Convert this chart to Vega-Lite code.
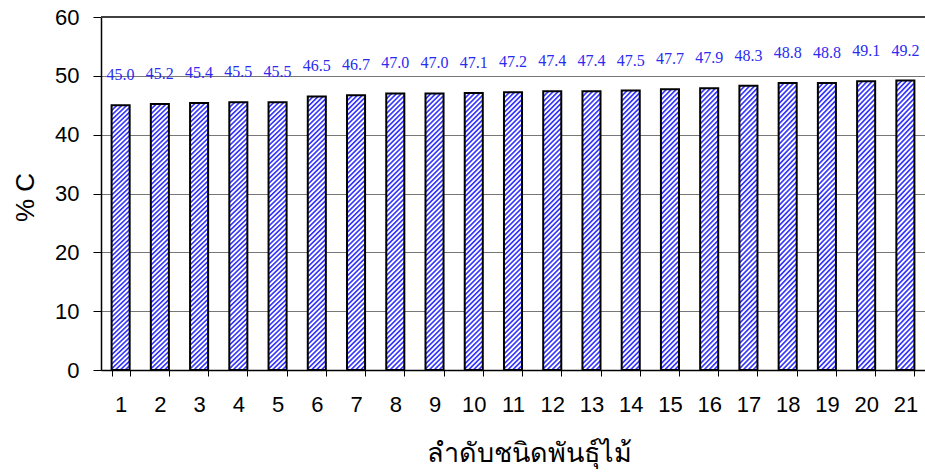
{
  "$schema": "https://vega.github.io/schema/vega-lite/v6.json",
  "width": 824,
  "height": 353,
  "autosize": "none",
  "padding": {"left": 101, "top": 17, "right": 0, "bottom": 105},
  "background": "white",
  "config": {
    "view": {"stroke": null},
    "axis": {"labelFont": "Liberation Sans", "titleFont": "Liberation Sans", "labelColor": "black", "titleColor": "black"}
  },
  "data": {
    "values": [
      {"species": "1", "carbon": 45.0},
      {"species": "2", "carbon": 45.2},
      {"species": "3", "carbon": 45.4},
      {"species": "4", "carbon": 45.5},
      {"species": "5", "carbon": 45.5},
      {"species": "6", "carbon": 46.5},
      {"species": "7", "carbon": 46.7},
      {"species": "8", "carbon": 47.0},
      {"species": "9", "carbon": 47.0},
      {"species": "10", "carbon": 47.1},
      {"species": "11", "carbon": 47.2},
      {"species": "12", "carbon": 47.4},
      {"species": "13", "carbon": 47.4},
      {"species": "14", "carbon": 47.5},
      {"species": "15", "carbon": 47.7},
      {"species": "16", "carbon": 47.9},
      {"species": "17", "carbon": 48.3},
      {"species": "18", "carbon": 48.8},
      {"species": "19", "carbon": 48.8},
      {"species": "20", "carbon": 49.1},
      {"species": "21", "carbon": 49.2}
    ]
  },
  "encoding": {
    "x": {
      "field": "species",
      "type": "ordinal",
      "sort": null,
      "scale": {"paddingInner": 0.54, "paddingOuter": 0.27},
      "axis": {
        "title": "ลำดับชนิดพันธุ์ไม้",
        "titleFontSize": 27,
        "titleFontWeight": "normal",
        "titleX": 428,
        "titleY": 83,
        "titleBaseline": "middle",
        "labelAngle": 0,
        "labelFontSize": 22,
        "labelPadding": 18,
        "tickBand": "extent",
        "tickSize": 6,
        "tickColor": "black",
        "domainColor": "black",
        "domainWidth": 1.5,
        "grid": false
      }
    },
    "y": {
      "field": "carbon",
      "type": "quantitative",
      "scale": {"domain": [0, 60], "nice": false},
      "axis": {
        "title": "% C",
        "titleFontSize": 26,
        "titleFontWeight": "normal",
        "titleX": -76,
        "titleY": 180,
        "titleAngle": -90,
        "titleBaseline": "middle",
        "titleAlign": "center",
        "values": [0, 10, 20, 30, 40, 50, 60],
        "labelFontSize": 22,
        "labelPadding": 14,
        "tickSize": 8,
        "tickColor": "black",
        "domainColor": "black",
        "domainWidth": 1.5,
        "grid": true,
        "gridColor": "#777777",
        "gridWidth": 1
      }
    }
  },
  "layer": [
    {
      "mark": {"type": "rule", "color": "#404040", "strokeWidth": 2},
      "encoding": {"y": {"datum": 60}, "x": {"value": 0}, "x2": {"value": 824}}
    },
    {
      "mark": {
        "type": "bar",
        "stroke": "black",
        "strokeWidth": 2,
        "fill": {
          "gradient": "linear",
          "x1": 0, "y1": 0, "x2": 0.069, "y2": 1.06,
          "stops": [
            {"offset": 0, "color": "#3a3aff"}, {"offset": 0.004, "color": "#3a3aff"}, {"offset": 0.008, "color": "#ffffff"}, {"offset": 0.0125, "color": "#ffffff"},
            {"offset": 0.0167, "color": "#3a3aff"}, {"offset": 0.0207, "color": "#3a3aff"}, {"offset": 0.0247, "color": "#ffffff"}, {"offset": 0.0292, "color": "#ffffff"},
            {"offset": 0.0333, "color": "#3a3aff"}, {"offset": 0.0373, "color": "#3a3aff"}, {"offset": 0.0413, "color": "#ffffff"}, {"offset": 0.0458, "color": "#ffffff"},
            {"offset": 0.05, "color": "#3a3aff"}, {"offset": 0.054, "color": "#3a3aff"}, {"offset": 0.058, "color": "#ffffff"}, {"offset": 0.0625, "color": "#ffffff"},
            {"offset": 0.0667, "color": "#3a3aff"}, {"offset": 0.0707, "color": "#3a3aff"}, {"offset": 0.0747, "color": "#ffffff"}, {"offset": 0.0792, "color": "#ffffff"},
            {"offset": 0.0833, "color": "#3a3aff"}, {"offset": 0.0873, "color": "#3a3aff"}, {"offset": 0.0913, "color": "#ffffff"}, {"offset": 0.0958, "color": "#ffffff"},
            {"offset": 0.1, "color": "#3a3aff"}, {"offset": 0.104, "color": "#3a3aff"}, {"offset": 0.108, "color": "#ffffff"}, {"offset": 0.1125, "color": "#ffffff"},
            {"offset": 0.1167, "color": "#3a3aff"}, {"offset": 0.1207, "color": "#3a3aff"}, {"offset": 0.1247, "color": "#ffffff"}, {"offset": 0.1292, "color": "#ffffff"},
            {"offset": 0.1333, "color": "#3a3aff"}, {"offset": 0.1373, "color": "#3a3aff"}, {"offset": 0.1413, "color": "#ffffff"}, {"offset": 0.1458, "color": "#ffffff"},
            {"offset": 0.15, "color": "#3a3aff"}, {"offset": 0.154, "color": "#3a3aff"}, {"offset": 0.158, "color": "#ffffff"}, {"offset": 0.1625, "color": "#ffffff"},
            {"offset": 0.1667, "color": "#3a3aff"}, {"offset": 0.1707, "color": "#3a3aff"}, {"offset": 0.1747, "color": "#ffffff"}, {"offset": 0.1792, "color": "#ffffff"},
            {"offset": 0.1833, "color": "#3a3aff"}, {"offset": 0.1873, "color": "#3a3aff"}, {"offset": 0.1913, "color": "#ffffff"}, {"offset": 0.1958, "color": "#ffffff"},
            {"offset": 0.2, "color": "#3a3aff"}, {"offset": 0.204, "color": "#3a3aff"}, {"offset": 0.208, "color": "#ffffff"}, {"offset": 0.2125, "color": "#ffffff"},
            {"offset": 0.2167, "color": "#3a3aff"}, {"offset": 0.2207, "color": "#3a3aff"}, {"offset": 0.2247, "color": "#ffffff"}, {"offset": 0.2292, "color": "#ffffff"},
            {"offset": 0.2333, "color": "#3a3aff"}, {"offset": 0.2373, "color": "#3a3aff"}, {"offset": 0.2413, "color": "#ffffff"}, {"offset": 0.2458, "color": "#ffffff"},
            {"offset": 0.25, "color": "#3a3aff"}, {"offset": 0.254, "color": "#3a3aff"}, {"offset": 0.258, "color": "#ffffff"}, {"offset": 0.2625, "color": "#ffffff"},
            {"offset": 0.2667, "color": "#3a3aff"}, {"offset": 0.2707, "color": "#3a3aff"}, {"offset": 0.2747, "color": "#ffffff"}, {"offset": 0.2792, "color": "#ffffff"},
            {"offset": 0.2833, "color": "#3a3aff"}, {"offset": 0.2873, "color": "#3a3aff"}, {"offset": 0.2913, "color": "#ffffff"}, {"offset": 0.2958, "color": "#ffffff"},
            {"offset": 0.3, "color": "#3a3aff"}, {"offset": 0.304, "color": "#3a3aff"}, {"offset": 0.308, "color": "#ffffff"}, {"offset": 0.3125, "color": "#ffffff"},
            {"offset": 0.3167, "color": "#3a3aff"}, {"offset": 0.3207, "color": "#3a3aff"}, {"offset": 0.3247, "color": "#ffffff"}, {"offset": 0.3292, "color": "#ffffff"},
            {"offset": 0.3333, "color": "#3a3aff"}, {"offset": 0.3373, "color": "#3a3aff"}, {"offset": 0.3413, "color": "#ffffff"}, {"offset": 0.3458, "color": "#ffffff"},
            {"offset": 0.35, "color": "#3a3aff"}, {"offset": 0.354, "color": "#3a3aff"}, {"offset": 0.358, "color": "#ffffff"}, {"offset": 0.3625, "color": "#ffffff"},
            {"offset": 0.3667, "color": "#3a3aff"}, {"offset": 0.3707, "color": "#3a3aff"}, {"offset": 0.3747, "color": "#ffffff"}, {"offset": 0.3792, "color": "#ffffff"},
            {"offset": 0.3833, "color": "#3a3aff"}, {"offset": 0.3873, "color": "#3a3aff"}, {"offset": 0.3913, "color": "#ffffff"}, {"offset": 0.3958, "color": "#ffffff"},
            {"offset": 0.4, "color": "#3a3aff"}, {"offset": 0.404, "color": "#3a3aff"}, {"offset": 0.408, "color": "#ffffff"}, {"offset": 0.4125, "color": "#ffffff"},
            {"offset": 0.4167, "color": "#3a3aff"}, {"offset": 0.4207, "color": "#3a3aff"}, {"offset": 0.4247, "color": "#ffffff"}, {"offset": 0.4292, "color": "#ffffff"},
            {"offset": 0.4333, "color": "#3a3aff"}, {"offset": 0.4373, "color": "#3a3aff"}, {"offset": 0.4413, "color": "#ffffff"}, {"offset": 0.4458, "color": "#ffffff"},
            {"offset": 0.45, "color": "#3a3aff"}, {"offset": 0.454, "color": "#3a3aff"}, {"offset": 0.458, "color": "#ffffff"}, {"offset": 0.4625, "color": "#ffffff"},
            {"offset": 0.4667, "color": "#3a3aff"}, {"offset": 0.4707, "color": "#3a3aff"}, {"offset": 0.4747, "color": "#ffffff"}, {"offset": 0.4792, "color": "#ffffff"},
            {"offset": 0.4833, "color": "#3a3aff"}, {"offset": 0.4873, "color": "#3a3aff"}, {"offset": 0.4913, "color": "#ffffff"}, {"offset": 0.4958, "color": "#ffffff"},
            {"offset": 0.5, "color": "#3a3aff"}, {"offset": 0.504, "color": "#3a3aff"}, {"offset": 0.508, "color": "#ffffff"}, {"offset": 0.5125, "color": "#ffffff"},
            {"offset": 0.5167, "color": "#3a3aff"}, {"offset": 0.5207, "color": "#3a3aff"}, {"offset": 0.5247, "color": "#ffffff"}, {"offset": 0.5292, "color": "#ffffff"},
            {"offset": 0.5333, "color": "#3a3aff"}, {"offset": 0.5373, "color": "#3a3aff"}, {"offset": 0.5413, "color": "#ffffff"}, {"offset": 0.5458, "color": "#ffffff"},
            {"offset": 0.55, "color": "#3a3aff"}, {"offset": 0.554, "color": "#3a3aff"}, {"offset": 0.558, "color": "#ffffff"}, {"offset": 0.5625, "color": "#ffffff"},
            {"offset": 0.5667, "color": "#3a3aff"}, {"offset": 0.5707, "color": "#3a3aff"}, {"offset": 0.5747, "color": "#ffffff"}, {"offset": 0.5792, "color": "#ffffff"},
            {"offset": 0.5833, "color": "#3a3aff"}, {"offset": 0.5873, "color": "#3a3aff"}, {"offset": 0.5913, "color": "#ffffff"}, {"offset": 0.5958, "color": "#ffffff"},
            {"offset": 0.6, "color": "#3a3aff"}, {"offset": 0.604, "color": "#3a3aff"}, {"offset": 0.608, "color": "#ffffff"}, {"offset": 0.6125, "color": "#ffffff"},
            {"offset": 0.6167, "color": "#3a3aff"}, {"offset": 0.6207, "color": "#3a3aff"}, {"offset": 0.6247, "color": "#ffffff"}, {"offset": 0.6292, "color": "#ffffff"},
            {"offset": 0.6333, "color": "#3a3aff"}, {"offset": 0.6373, "color": "#3a3aff"}, {"offset": 0.6413, "color": "#ffffff"}, {"offset": 0.6458, "color": "#ffffff"},
            {"offset": 0.65, "color": "#3a3aff"}, {"offset": 0.654, "color": "#3a3aff"}, {"offset": 0.658, "color": "#ffffff"}, {"offset": 0.6625, "color": "#ffffff"},
            {"offset": 0.6667, "color": "#3a3aff"}, {"offset": 0.6707, "color": "#3a3aff"}, {"offset": 0.6747, "color": "#ffffff"}, {"offset": 0.6792, "color": "#ffffff"},
            {"offset": 0.6833, "color": "#3a3aff"}, {"offset": 0.6873, "color": "#3a3aff"}, {"offset": 0.6913, "color": "#ffffff"}, {"offset": 0.6958, "color": "#ffffff"},
            {"offset": 0.7, "color": "#3a3aff"}, {"offset": 0.704, "color": "#3a3aff"}, {"offset": 0.708, "color": "#ffffff"}, {"offset": 0.7125, "color": "#ffffff"},
            {"offset": 0.7167, "color": "#3a3aff"}, {"offset": 0.7207, "color": "#3a3aff"}, {"offset": 0.7247, "color": "#ffffff"}, {"offset": 0.7292, "color": "#ffffff"},
            {"offset": 0.7333, "color": "#3a3aff"}, {"offset": 0.7373, "color": "#3a3aff"}, {"offset": 0.7413, "color": "#ffffff"}, {"offset": 0.7458, "color": "#ffffff"},
            {"offset": 0.75, "color": "#3a3aff"}, {"offset": 0.754, "color": "#3a3aff"}, {"offset": 0.758, "color": "#ffffff"}, {"offset": 0.7625, "color": "#ffffff"},
            {"offset": 0.7667, "color": "#3a3aff"}, {"offset": 0.7707, "color": "#3a3aff"}, {"offset": 0.7747, "color": "#ffffff"}, {"offset": 0.7792, "color": "#ffffff"},
            {"offset": 0.7833, "color": "#3a3aff"}, {"offset": 0.7873, "color": "#3a3aff"}, {"offset": 0.7913, "color": "#ffffff"}, {"offset": 0.7958, "color": "#ffffff"},
            {"offset": 0.8, "color": "#3a3aff"}, {"offset": 0.804, "color": "#3a3aff"}, {"offset": 0.808, "color": "#ffffff"}, {"offset": 0.8125, "color": "#ffffff"},
            {"offset": 0.8167, "color": "#3a3aff"}, {"offset": 0.8207, "color": "#3a3aff"}, {"offset": 0.8247, "color": "#ffffff"}, {"offset": 0.8292, "color": "#ffffff"},
            {"offset": 0.8333, "color": "#3a3aff"}, {"offset": 0.8373, "color": "#3a3aff"}, {"offset": 0.8413, "color": "#ffffff"}, {"offset": 0.8458, "color": "#ffffff"},
            {"offset": 0.85, "color": "#3a3aff"}, {"offset": 0.854, "color": "#3a3aff"}, {"offset": 0.858, "color": "#ffffff"}, {"offset": 0.8625, "color": "#ffffff"},
            {"offset": 0.8667, "color": "#3a3aff"}, {"offset": 0.8707, "color": "#3a3aff"}, {"offset": 0.8747, "color": "#ffffff"}, {"offset": 0.8792, "color": "#ffffff"},
            {"offset": 0.8833, "color": "#3a3aff"}, {"offset": 0.8873, "color": "#3a3aff"}, {"offset": 0.8913, "color": "#ffffff"}, {"offset": 0.8958, "color": "#ffffff"},
            {"offset": 0.9, "color": "#3a3aff"}, {"offset": 0.904, "color": "#3a3aff"}, {"offset": 0.908, "color": "#ffffff"}, {"offset": 0.9125, "color": "#ffffff"},
            {"offset": 0.9167, "color": "#3a3aff"}, {"offset": 0.9207, "color": "#3a3aff"}, {"offset": 0.9247, "color": "#ffffff"}, {"offset": 0.9292, "color": "#ffffff"},
            {"offset": 0.9333, "color": "#3a3aff"}, {"offset": 0.9373, "color": "#3a3aff"}, {"offset": 0.9413, "color": "#ffffff"}, {"offset": 0.9458, "color": "#ffffff"},
            {"offset": 0.95, "color": "#3a3aff"}, {"offset": 0.954, "color": "#3a3aff"}, {"offset": 0.958, "color": "#ffffff"}, {"offset": 0.9625, "color": "#ffffff"},
            {"offset": 0.9667, "color": "#3a3aff"}, {"offset": 0.9707, "color": "#3a3aff"}, {"offset": 0.9747, "color": "#ffffff"}, {"offset": 0.9792, "color": "#ffffff"},
            {"offset": 0.9833, "color": "#3a3aff"}, {"offset": 0.9873, "color": "#3a3aff"}, {"offset": 0.9913, "color": "#ffffff"}, {"offset": 0.9958, "color": "#ffffff"},
            {"offset": 1, "color": "#3a3aff"}
          ]
        }
      }
    },
    {
      "mark": {
        "type": "text",
        "font": "Liberation Serif",
        "fontSize": 16,
        "color": "#2b2bf0",
        "baseline": "middle",
        "dy": -30
      },
      "encoding": {
        "text": {"field": "carbon", "type": "quantitative", "format": ".1f"}
      }
    }
  ]
}
